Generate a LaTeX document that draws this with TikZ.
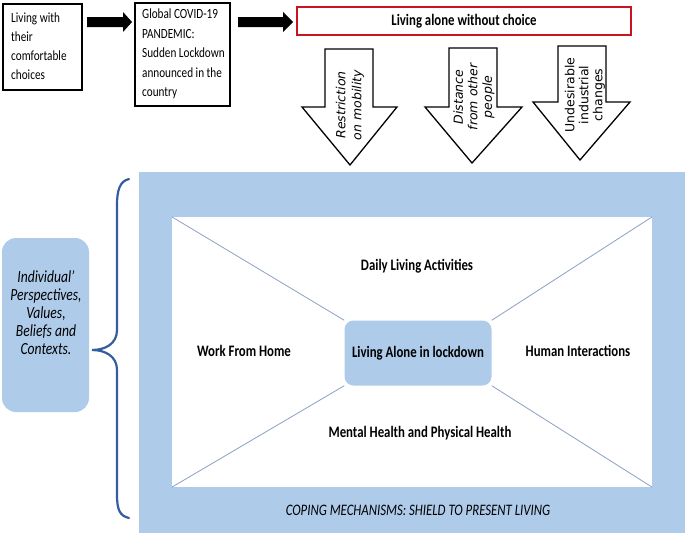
\documentclass[tikz,border=0pt]{standalone}
\usepackage{fontspec}
\setmainfont{Carlito}[FakeStretch=0.8]
\newfontfamily\arrowfont{DejaVu Sans}
\definecolor{lblue}{RGB}{174,203,234}
\definecolor{bracec}{RGB}{52,92,160}
\definecolor{diag}{RGB}{140,160,196}
\definecolor{redb}{RGB}{200,20,30}
\begin{document}
\begin{tikzpicture}[x=1pt,y=-1pt,
  topbox/.style={draw=black,line width=1.3pt,fill=white,inner sep=0pt},
  boxtext/.style={anchor=west,align=left,inner sep=0pt,font=\fontsize{14}{19}\selectfont},
  blockarrow/.style={fill=black},
  downarrow/.style={draw=black,line width=1.3pt,fill=white,line join=miter},
  arrowtext/.style={rotate=90,align=center,inner sep=0pt},
  label/.style={font=\bfseries\fontsize{16}{18}\selectfont,inner sep=0pt},
  diagline/.style={draw=diag,line width=0.8pt}]
\useasboundingbox (0,0) rectangle (685,533);
% top row
\node[topbox,minimum width=79pt,minimum height=86pt] (b1) at (42.5,47) {};
\node[boxtext] (b1text) at (11,46.5) {Living with\\their\\comfortable\\choices};
\node[topbox,minimum width=95pt,minimum height=103pt] (b2) at (182.5,54.5) {};
\node[boxtext,font=\fontsize{14}{19.5}\selectfont] (b2text) at (142,54) {Global COVID-19\\PANDEMIC:\\Sudden Lockdown\\announced in the\\country};
\fill[blockarrow] (87,17) -- (123,17) -- (123,12) -- (132,22) -- (123,32) -- (123,27) -- (87,27) -- cycle;
\fill[blockarrow] (238,17) -- (283,17) -- (283,12) -- (293,22) -- (283,32) -- (283,27) -- (238,27) -- cycle;
\node[draw=redb,line width=1.5pt,fill=white,minimum width=334pt,minimum height=28pt,font=\bfseries\fontsize{16}{18}\selectfont] (alone) at (464,21) {Living alone without choice};
% down arrows
\draw[downarrow] (325,49) -- (373,49) -- (373,107) -- (397,107) -- (350,165) -- (302,107) -- (325,107) -- cycle;
\draw[downarrow] (449,48) -- (497,48) -- (497,107) -- (522,107) -- (472,163) -- (425,107) -- (449,107) -- cycle;
\draw[downarrow] (558,46) -- (606,46) -- (606,102) -- (630,102) -- (580,160) -- (533,102) -- (558,102) -- cycle;
\node[arrowtext,font=\arrowfont\itshape\fontsize{12.5}{16}\selectfont] (t1) at (350,105) {Restriction\\on mobility};
\node[arrowtext,font=\arrowfont\itshape\fontsize{12.5}{14.5}\selectfont] (t2) at (474,97) {Distance\\from other\\people};
\node[arrowtext,font=\arrowfont\fontsize{12.5}{14}\selectfont] (t3) at (585,95) {Undesirable\\industrial\\changes};
% big frame
\fill[lblue] (139,172) rectangle (685,533);
\node[fill=white,minimum width=480pt,minimum height=270pt,inner sep=0pt] (inner) at (412,352) {};
\node[fill=lblue,rounded corners=9pt,minimum width=147pt,minimum height=65pt,font=\bfseries\fontsize{16}{18}\selectfont] (core) at (418,353) {Living Alone in lockdown};
\draw[diagline] (inner.north west) -- (core.north west);
\draw[diagline] (inner.north east) -- (core.north east);
\draw[diagline] (inner.south west) -- (core.south west);
\draw[diagline] (inner.south east) -- (core.south east);
\node[label] (daily) at (417,266) {Daily Living Activities};
\node[label] (wfh) at (244,351) {Work From Home};
\node[label] (human) at (578,351) {Human Interactions};
\node[label] (mental) at (420,433) {Mental Health and Physical Health};
\node[font=\itshape\fontsize{16}{18}\selectfont,inner sep=0pt] (coping) at (418,510) {COPING MECHANISMS: SHIELD TO PRESENT LIVING};
% left side
\node[fill=lblue,rounded corners=14pt,minimum width=87pt,minimum height=174pt] (indiv) at (45.5,325) {};
\node[align=center,inner sep=0pt,font=\itshape\fontsize{17}{18}\selectfont] (indivtext) at (46,313) {Individual’\\Perspectives,\\Values,\\Beliefs and\\Contexts.};
\draw[bracec,line width=2.2pt,line cap=round] (129,179) .. controls (120,181) and (117,190) .. (117,205) -- (117,330) .. controls (117,344) and (105,350) .. (92,350) .. controls (105,350) and (117,356) .. (117,370) -- (117,495) .. controls (117,510) and (120,516) .. (129,518);
\end{tikzpicture}
\end{document}
